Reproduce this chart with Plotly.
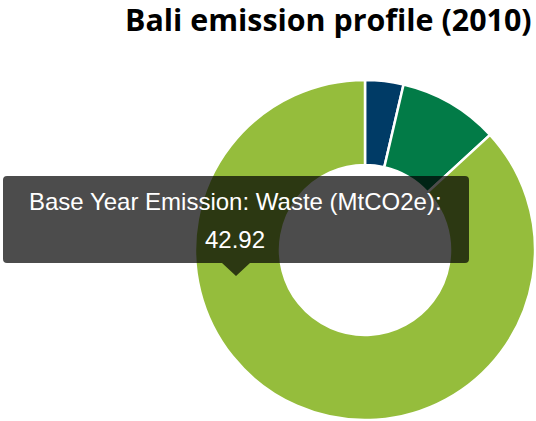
import plotly.graph_objects as go

W, H = 536, 421

# Data
sectors = ["Energy", "Land Use", "Waste"]
emissions = [1.80, 4.70, 42.92]
colors = ["#003b66", "#027b47", "#95bd3c"]

title_text = "Bali emission profile (2010)"
tooltip_line1 = "Base Year Emission: Waste (MtCO2e):"
tooltip_line2 = "42.92"

def px(x):
    return x / W

def py(y):
    return 1 - y / H

# Pie geometry (pixels)
cx, cy, r = 365, 250, 170

fig = go.Figure(go.Pie(
    labels=sectors,
    values=emissions,
    hole=0.5,
    sort=False,
    direction="clockwise",
    rotation=0,
    marker=dict(colors=colors, line=dict(color="white", width=2.5)),
    textinfo="none",
    hoverinfo="none",
    showlegend=False,
    domain=dict(x=[px(cx - r), px(cx + r)], y=[py(cy + r), py(cy - r)]),
))

# Tooltip box with arrow
x0, x1, y0, y1, rr = 3, 469, 176, 263, 4
ax0, ax1, tipx, tipy = 222, 250, 236, 276
def P(x, y):
    return f"{px(x):.5f},{py(y):.5f}"
path = (
    f"M {P(x0 + rr, y0)} L {P(x1 - rr, y0)} Q {P(x1, y0)} {P(x1, y0 + rr)} "
    f"L {P(x1, y1 - rr)} Q {P(x1, y1)} {P(x1 - rr, y1)} "
    f"L {P(ax1, y1)} L {P(tipx, tipy)} L {P(ax0, y1)} "
    f"L {P(x0 + rr, y1)} Q {P(x0, y1)} {P(x0, y1 - rr)} "
    f"L {P(x0, y0 + rr)} Q {P(x0, y0)} {P(x0 + rr, y0)} Z"
)
fig.add_shape(type="path", path=path, xref="paper", yref="paper",
              fillcolor="rgba(0,0,0,0.7)", line=dict(width=0))

fig.add_annotation(x=px(235), y=py(201), xref="paper", yref="paper",
                   text=tooltip_line1, showarrow=False,
                   font=dict(family="Liberation Sans, Arial", size=24, color="white"),
                   xanchor="center", yanchor="middle")
fig.add_annotation(x=px(235), y=py(239.5), xref="paper", yref="paper",
                   text=tooltip_line2, showarrow=False,
                   font=dict(family="Liberation Sans, Arial", size=24, color="white"),
                   xanchor="center", yanchor="middle")

fig.update_layout(
    width=W, height=H,
    margin=dict(l=0, r=0, t=0, b=0),
    paper_bgcolor="white",
    plot_bgcolor="white",
    title=dict(text=f"<b>{title_text}</b>", x=px(125), xanchor="left", xref="paper",
               y=py(20.5), yanchor="middle", yref="container",
               font=dict(family="Open Sans", size=30.4, color="black")),
)

fig.write_html("out.html", config={"displayModeBar": False},
               post_script="document.body.style.margin='0';document.body.style.overflow='hidden';")
